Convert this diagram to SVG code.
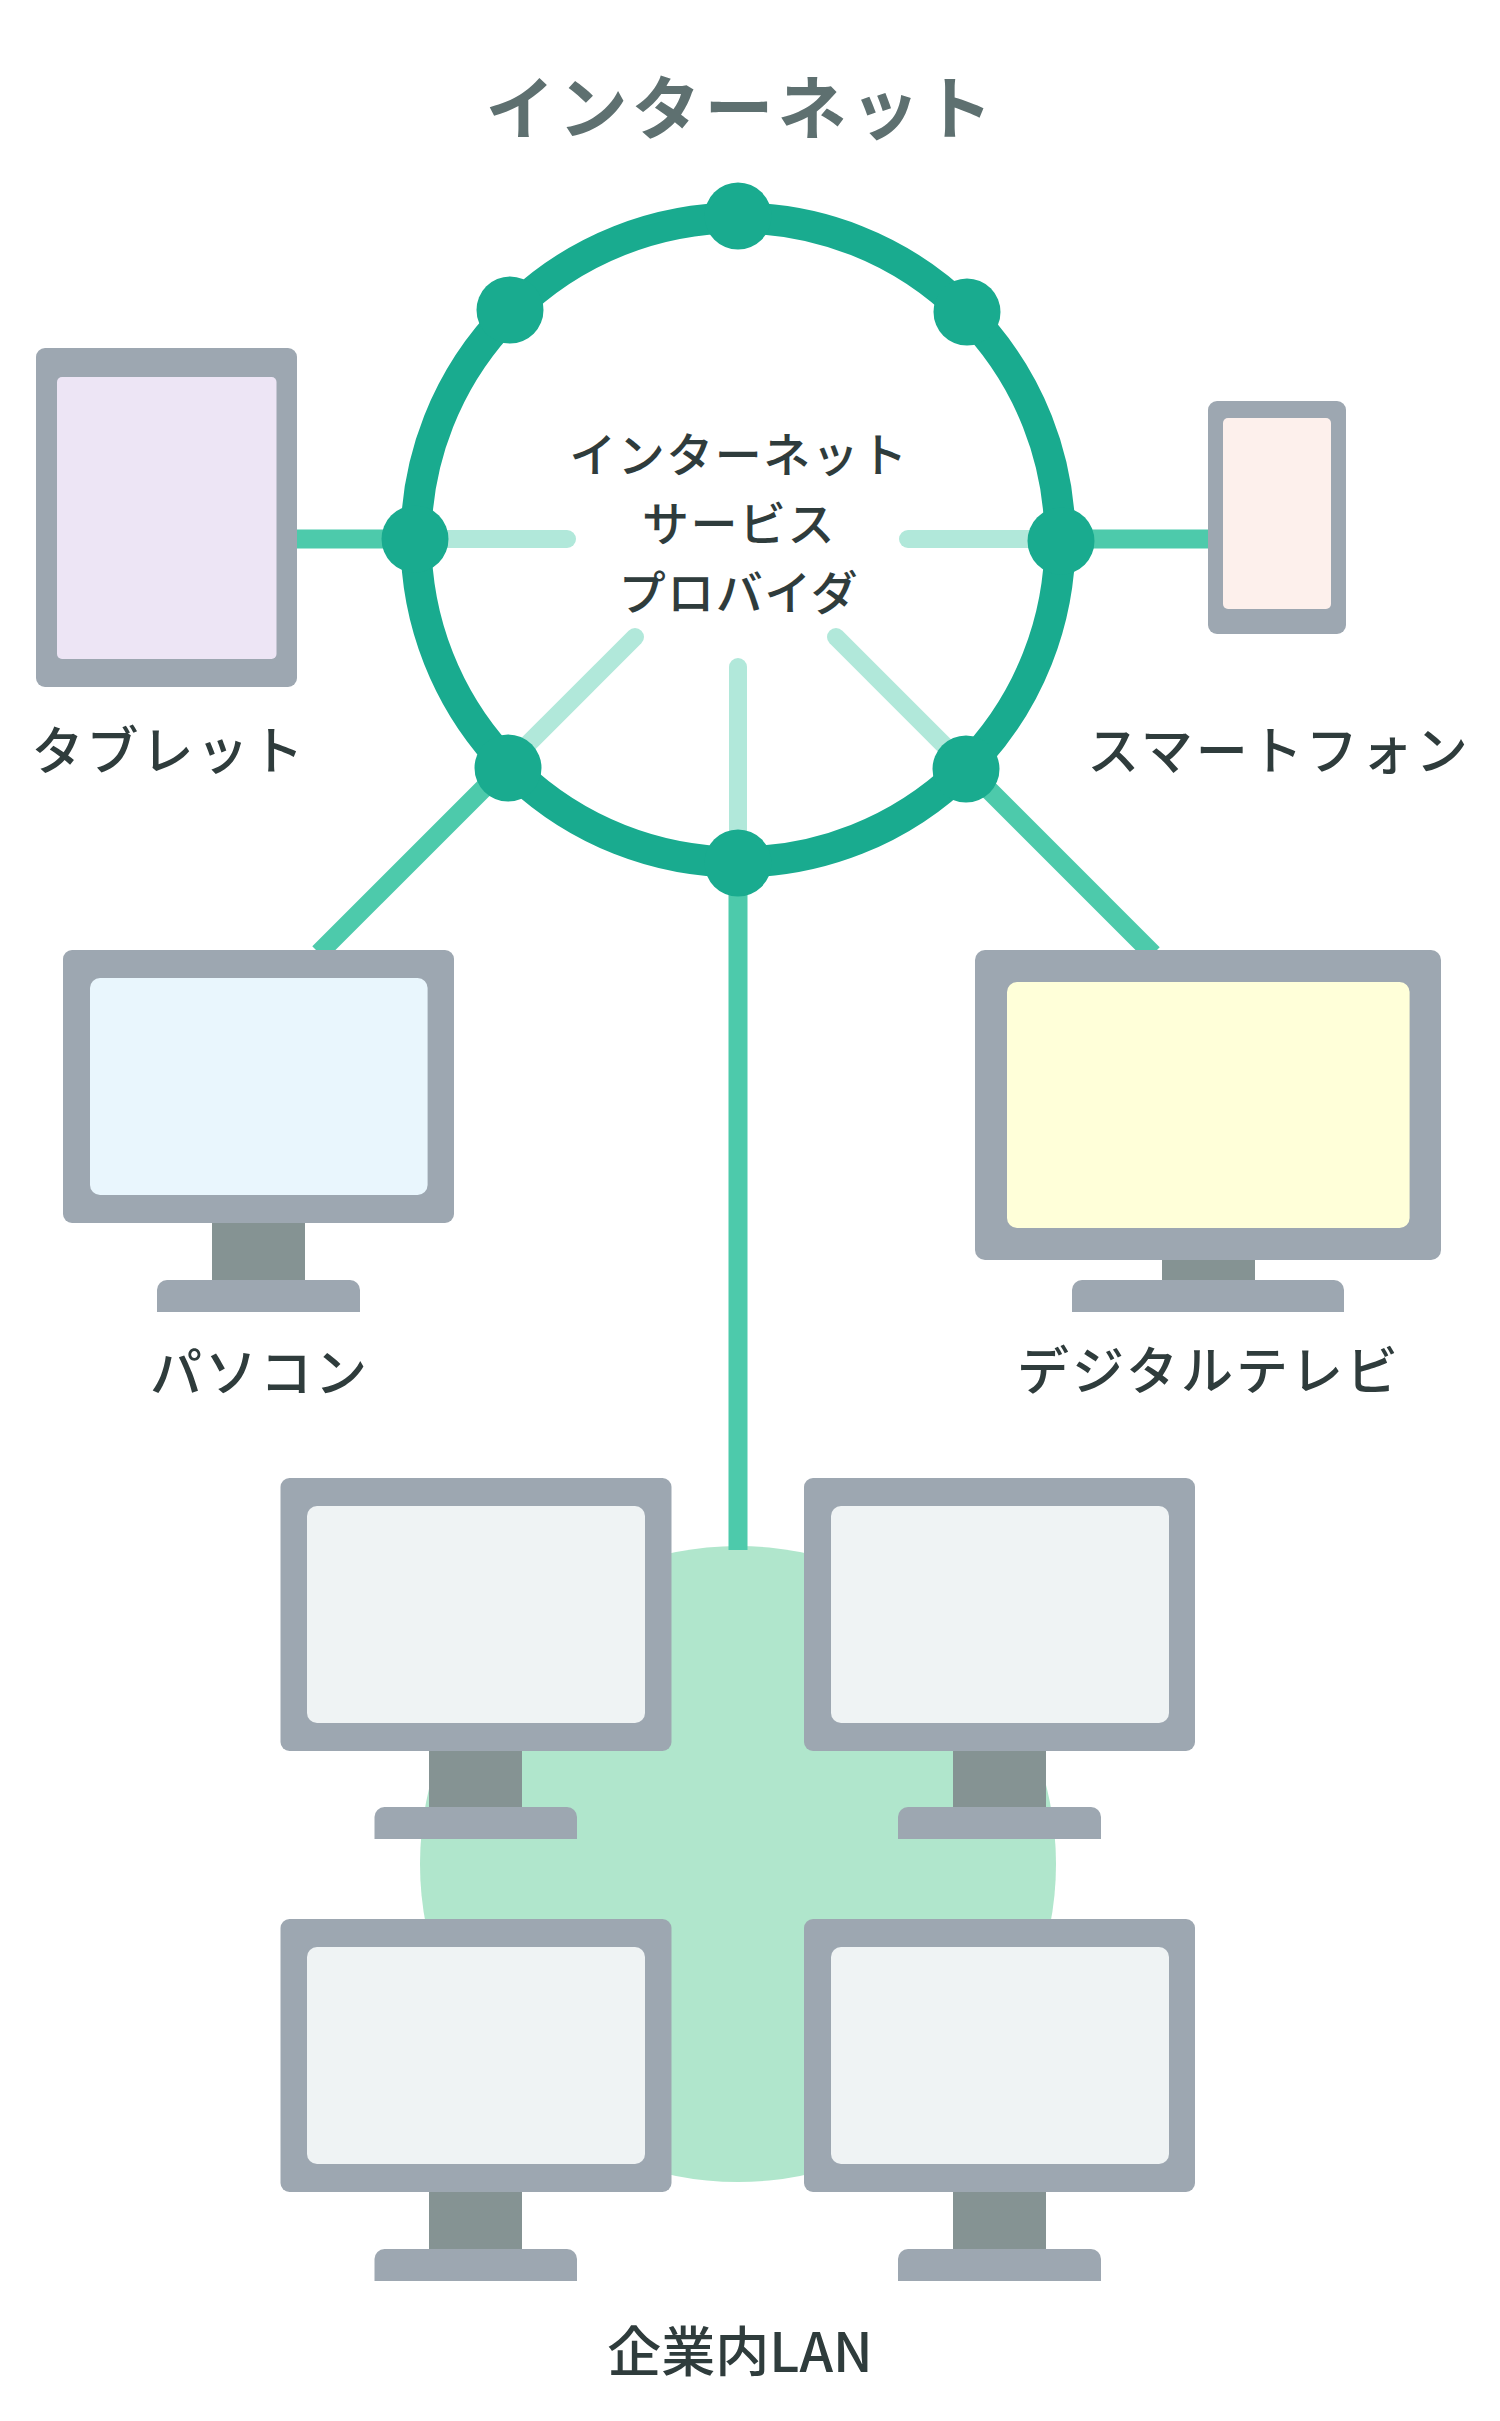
<svg xmlns="http://www.w3.org/2000/svg" width="1500" height="2421" viewBox="0 0 1500 2421">
<style>
text{font-family:"Noto Sans CJK JP","Noto Sans",sans-serif;text-anchor:middle;fill:#2f3c3c;font-weight:500}
.label{font-size:52px;letter-spacing:3px}
.isp{font-size:47px;letter-spacing:1.500px}
.title{font-size:69px;font-weight:700;fill:#5e7070;letter-spacing:4px}
.case{fill:#9da7b1}
.stand{fill:#859393}
.pc{fill:#eff3f4}
.light{stroke:#b1e8da;stroke-width:18;stroke-linecap:round;fill:none}
.mid{stroke:#4dcaab;stroke-width:19;fill:none}
.hub{fill:#19ab8f}
</style>
<rect width="1500" height="2421" fill="#fff"/>
<circle id="lan-area" cx="738" cy="1864" r="318" fill="#b0e6cc"/>
<g id="connectors">
<line class="mid" x1="297" y1="539" x2="415" y2="539"/>
<line class="mid" x1="1061" y1="539" x2="1208" y2="539"/>
<line class="mid" x1="505" y1="767" x2="319" y2="953"/>
<line class="mid" x1="968" y1="769" x2="1153" y2="954"/>
<line class="mid" x1="738" y1="863" x2="738" y2="1550"/>
<line class="light" x1="415" y1="539" x2="567" y2="539"/>
<line class="light" x1="1061" y1="539" x2="908" y2="539"/>
<line class="light" x1="505" y1="767" x2="635" y2="637"/>
<line class="light" x1="968" y1="769" x2="836" y2="637"/>
<line class="light" x1="738" y1="863" x2="738" y2="667"/>
</g>
<g id="isp">
<circle cx="738" cy="540" r="322" fill="none" stroke="#19ab8f" stroke-width="31"/>
<circle class="hub" cx="738" cy="216" r="33.5"/>
<circle class="hub" cx="510" cy="310" r="33.5"/>
<circle class="hub" cx="967" cy="312" r="33.5"/>
<circle class="hub" cx="415" cy="539" r="33.5"/>
<circle class="hub" cx="1061" cy="541" r="33.5"/>
<circle class="hub" cx="508" cy="768" r="33.5"/>
<circle class="hub" cx="966" cy="769" r="33.5"/>
<circle class="hub" cx="738" cy="863" r="33.5"/>
<text class="isp" x="739" y="472">インターネット</text>
<text class="isp" x="739" y="541">サービス</text>
<text class="isp" x="739" y="610">プロバイダ</text>
</g>
<text id="title" class="title" x="741" y="134">インターネット</text>
<g id="tablet">
<rect class="case" x="36" y="348" width="261" height="339" rx="9"/>
<rect x="57" y="377" width="219.500" height="282" rx="5" fill="#ede5f5"/>
<text class="label" x="169" y="770">タブレット</text>
</g>
<g id="smartphone">
<rect class="case" x="1208" y="401" width="138" height="233" rx="9"/>
<rect x="1223" y="418" width="108" height="191" rx="5" fill="#fdf0ec"/>
<text class="label" x="1279" y="770">スマートフォン</text>
</g>
<g id="personal-computer">
<rect class="stand" x="212" y="1220" width="93" height="62"/>
<rect class="case" x="63" y="950" width="391" height="273" rx="9"/>
<rect x="90" y="978" width="337.600" height="217" rx="10" fill="#e9f6fd"/>
<path class="case" d="M157 1312V1290a10 10 0 0 1 10-10H350a10 10 0 0 1 10 10V1312Z"/>
<text class="label" x="260" y="1392">パソコン</text>
</g>
<g id="digital-tv">
<rect class="stand" x="1162" y="1255" width="93" height="27"/>
<rect class="case" x="975" y="950" width="466" height="310" rx="10"/>
<rect x="1007" y="982" width="402.600" height="246" rx="10" fill="#ffffd9"/>
<path class="case" d="M1072 1312V1290a10 10 0 0 1 10-10H1334a10 10 0 0 1 10 10V1312Z"/>
<text class="label" x="1209" y="1390">デジタルテレビ</text>
</g>
<g id="lan-pc-1">
<rect class="stand" x="429" y="1748" width="93" height="62"/>
<rect class="case" x="280.500" y="1478" width="391" height="273" rx="9"/>
<rect class="pc" x="307" y="1506" width="338" height="217" rx="10"/>
<path class="case" d="M374.500 1839V1817a10 10 0 0 1 10-10H567a10 10 0 0 1 10 10V1839Z"/>
</g>
<g id="lan-pc-2">
<rect class="stand" x="953" y="1748" width="93" height="62"/>
<rect class="case" x="804" y="1478" width="391" height="273" rx="9"/>
<rect class="pc" x="831" y="1506" width="338" height="217" rx="10"/>
<path class="case" d="M898 1839V1817a10 10 0 0 1 10-10H1091a10 10 0 0 1 10 10V1839Z"/>
</g>
<g id="lan-pc-3">
<rect class="stand" x="429" y="2189" width="93" height="62"/>
<rect class="case" x="280.500" y="1919" width="391" height="273" rx="9"/>
<rect class="pc" x="307" y="1947" width="338" height="217" rx="10"/>
<path class="case" d="M374.500 2281V2259a10 10 0 0 1 10-10H567a10 10 0 0 1 10 10V2281Z"/>
</g>
<g id="lan-pc-4">
<rect class="stand" x="953" y="2189" width="93" height="62"/>
<rect class="case" x="804" y="1919" width="391" height="273" rx="9"/>
<rect class="pc" x="831" y="1947" width="338" height="217" rx="10"/>
<path class="case" d="M898 2281V2259a10 10 0 0 1 10-10H1091a10 10 0 0 1 10 10V2281Z"/>
</g>
<text id="lan-label" class="label" x="740" y="2372" style="font-size:54px;letter-spacing:0">企業内LAN</text>
</svg>
